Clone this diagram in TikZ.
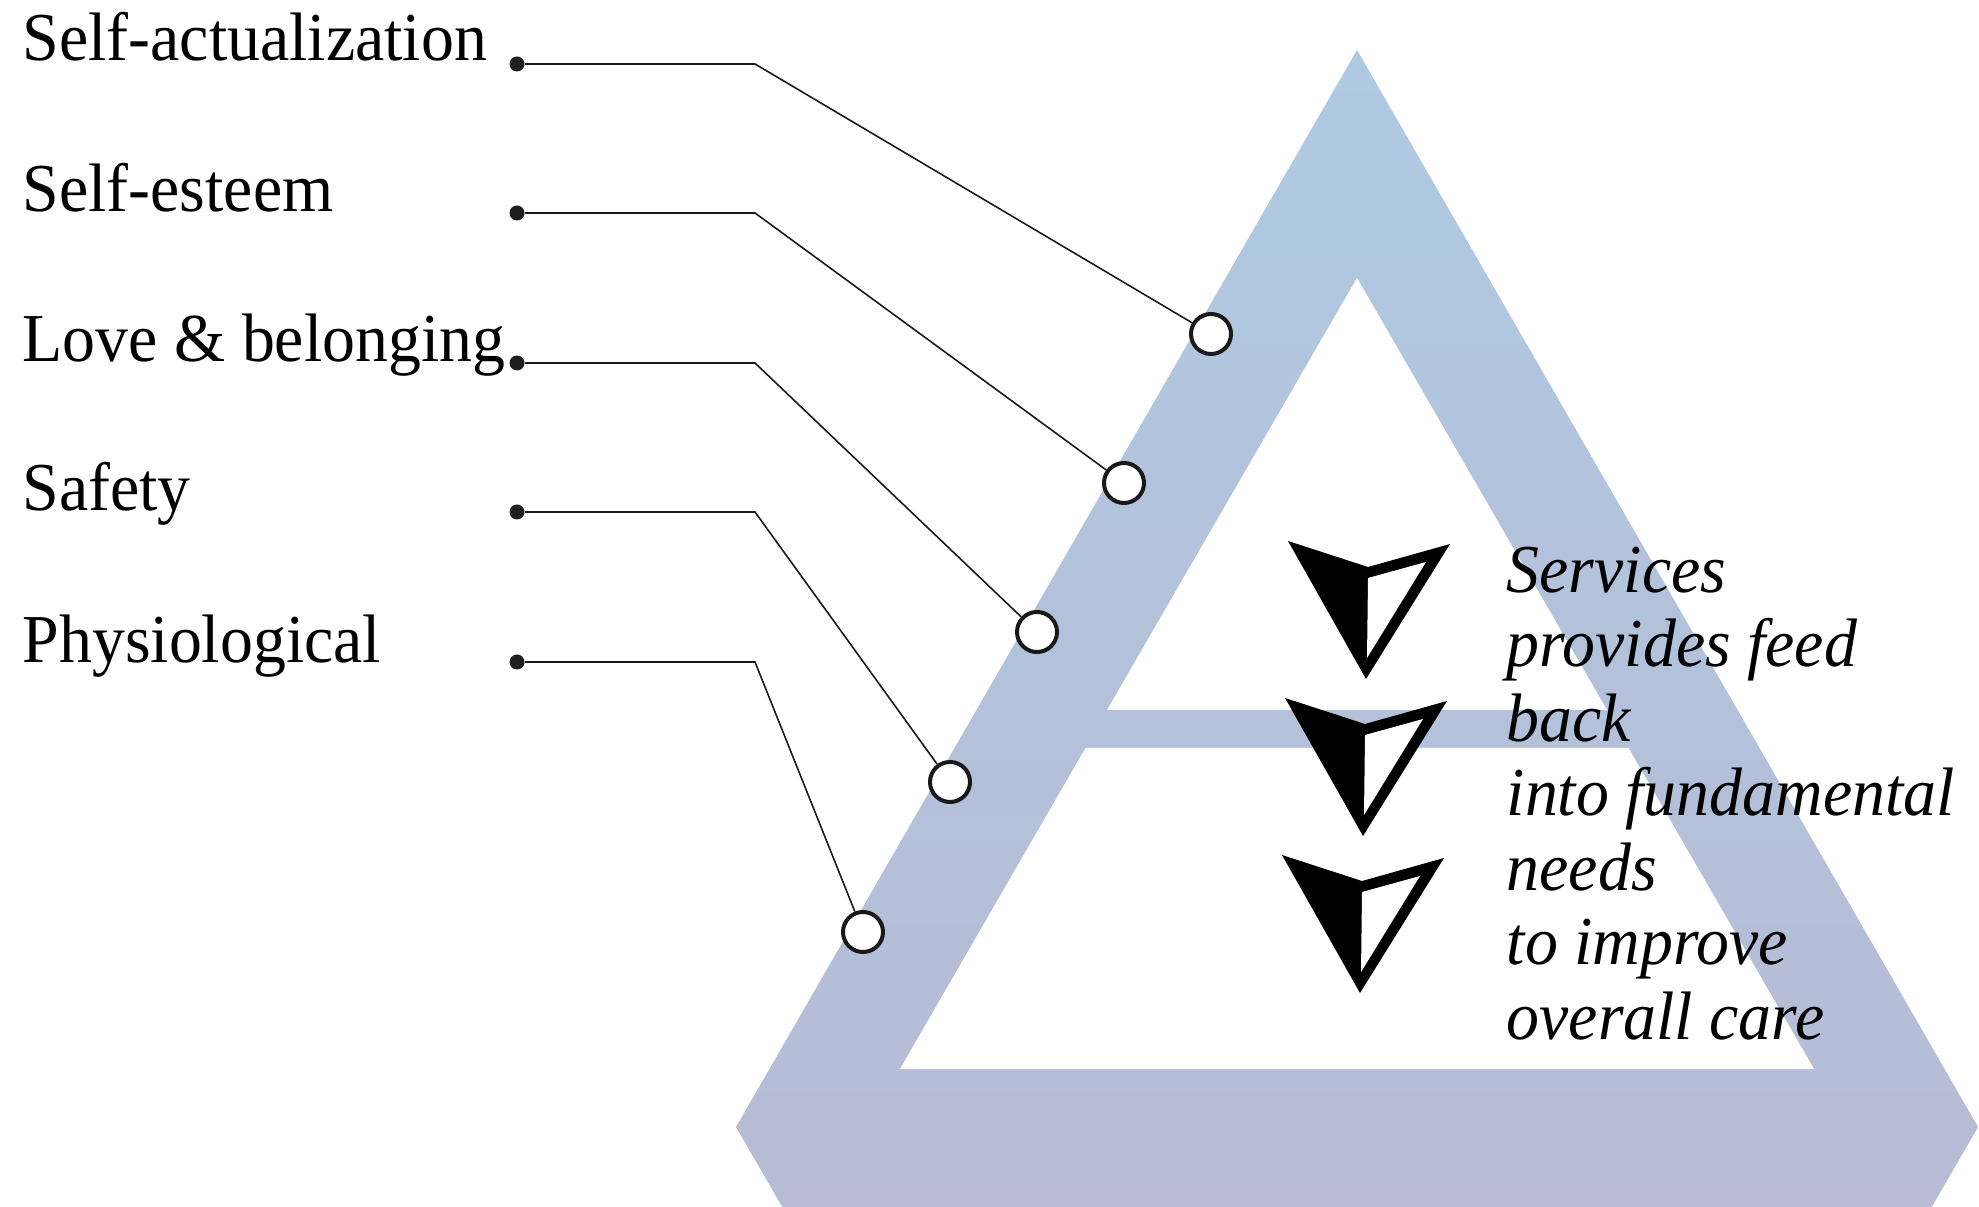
\documentclass[tikz,border=0pt]{standalone}
\usepackage{fontspec}
\setmainfont{Liberation Serif}[FakeStretch=0.96]
\definecolor{triTop}{RGB}{175,201,226}
\definecolor{triBot}{RGB}{184,186,211}
\begin{document}
\begin{tikzpicture}[x=0.01cm,y=-0.01cm,
  dotpt/.style={circle,fill=black!88,inner sep=0pt,minimum size=0.15cm},
  ring/.style={circle,draw=black!90,line width=0.04cm,fill=white,inner sep=0pt,minimum size=0.40cm},
  leader/.style={draw=black!90,line width=0.45pt},
  lbl/.style={anchor=base west,inner sep=0pt,font=\fontsize{19.5}{21.2}\selectfont},
  navarrow/.pic={
    \fill[black] (0,0) -- (80,26) -- (162,3) -- (78,138) -- cycle;
    \fill[white] (80,37) -- (138,21) -- (79,117) -- cycle;
  }]
\useasboundingbox (0,0) rectangle (1979,1207);
% pyramid band
\shade[top color=triTop,bottom color=triBot]
  (1357,50) -- (1978,1127) -- (1878,1300) -- (836,1300) -- (736,1127) -- cycle;
\fill[white] (1357,278) -- (1607,710) -- (1107,710) -- cycle;
\fill[white] (1085.5,748) -- (1628.5,748) -- (1814,1069) -- (900,1069) -- cycle;
% labels
\node[lbl] (t1) at (22,61) {Self-actualization};
\node[lbl] (t2) at (22,212) {Self-esteem};
\node[lbl] (t3) at (22,362) {Love \& belonging};
\node[lbl] (t4) at (22,511) {Safety};
\node[lbl] (t5) at (22,663) {Physiological};
% dots and rings
\node[dotpt] (d1) at (517,64) {};
\node[dotpt] (d2) at (517,213) {};
\node[dotpt] (d3) at (517,363) {};
\node[dotpt] (d4) at (517,512) {};
\node[dotpt] (d5) at (517,662) {};
\coordinate (k1) at (755,64);
\coordinate (k2) at (755,213);
\coordinate (k3) at (755,363);
\coordinate (k4) at (755,512);
\coordinate (k5) at (755,662);
\node[ring] (c1) at (1211,334) {};
\node[ring] (c2) at (1124,483) {};
\node[ring] (c3) at (1037,632) {};
\node[ring] (c4) at (950,782) {};
\node[ring] (c5) at (863,932) {};
\draw[leader] (d1) -- (k1) -- (c1);
\draw[leader] (d2) -- (k2) -- (c2);
\draw[leader] (d3) -- (k3) -- (c3);
\draw[leader] (d4) -- (k4) -- (c4);
\draw[leader] (d5) -- (k5) -- (c5);
% arrows
\pic at (1288,541) {navarrow};
\pic at (1285,698) {navarrow};
\pic at (1282,855) {navarrow};
% right text
\node[anchor=north west,inner sep=0pt,align=left,font=\fontsize{19.5}{21.2}\selectfont\itshape] (note) at (1506,546)
  {Services\\provides feed\\back\\into fundamental\\needs\\to improve\\overall care};
\end{tikzpicture}
\end{document}
